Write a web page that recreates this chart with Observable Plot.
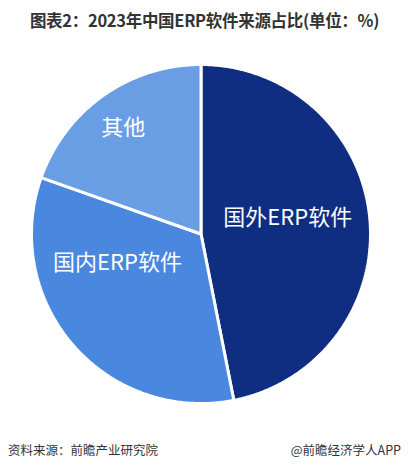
<!DOCTYPE html>
<html>
<head>
<meta charset="utf-8">
<script src="https://cdn.jsdelivr.net/npm/d3@7"></script>
<script src="https://cdn.jsdelivr.net/npm/@observablehq/plot@0.6"></script>
<style>
  html, body { margin: 0; padding: 0; background: #fff; }
  body { width: 409px; height: 469px; overflow: hidden; font-family: "Noto Sans CJK SC", "Noto Sans", sans-serif; }
  #title { height: 40px; line-height: 40px; text-align: center; font-size: 16.5px; font-weight: bold; color: #333; letter-spacing: -0.3px; }
  #footer { position: relative; height: 49px; font-size: 12.5px; color: #333; }
  #footer .l { position: absolute; left: 8px; top: 20px; }
  #footer .r { position: absolute; right: 8px; top: 20px; }
</style>
</head>
<body>
<div id="title">图表2：2023年中国ERP软件来源占比(单位：%)</div>
<div id="chart"></div>
<div id="footer"><span class="l">资料来源：前瞻产业研究院</span><span class="r">@前瞻经济学人APP</span></div>
<script>
const categories = ["国外ERP软件", "国内ERP软件", "其他"];
const shares = [46.9, 33.5, 19.6];
const colors = ["#0f2e82", "#4a87df", "#699de4"];

// Build slice polygons (clockwise from 12 o'clock) from the data
const total = d3.sum(shares);
const slices = [];
let acc = 0;
categories.forEach((name, i) => {
  const a0 = acc / total * 2 * Math.PI;
  acc += shares[i];
  const a1 = acc / total * 2 * Math.PI;
  slices.push({name, a0, a1, mid: (a0 + a1) / 2});
});
const verts = [];
for (const s of slices) {
  verts.push({name: s.name, x: 0, y: 0});
  const n = Math.max(2, Math.ceil((s.a1 - s.a0) / (Math.PI / 360)));
  for (let k = 0; k <= n; k++) {
    const a = s.a0 + (s.a1 - s.a0) * k / n;
    verts.push({name: s.name, x: Math.sin(a), y: Math.cos(a)});
  }
}
const labels = slices.map(s => ({name: s.name, x: 0.55 * Math.sin(s.mid), y: 0.55 * Math.cos(s.mid)}));
const lab = (name, dx, dy) => Plot.text(labels.filter(d => d.name === name), {
  x: "x", y: "y", text: "name", fill: "white", fontSize: 22, dx, dy,
  fontFamily: "Noto Sans CJK SC", textAnchor: "middle"
});

const chart = Plot.plot({
  width: 409,
  height: 380,
  marginLeft: 31,
  marginRight: 39,
  marginTop: 24,
  marginBottom: 17,
  x: {domain: [-1, 1], axis: null},
  y: {domain: [-1, 1], axis: null},
  color: {domain: categories, range: colors},
  marks: [
    Plot.line(verts, {x: "x", y: "y", z: "name", fill: "name", stroke: "white", strokeWidth: 3, curve: "linear-closed", strokeLinejoin: "miter"}),
    lab("国外ERP软件", -6, -7),
    lab("国内ERP软件", -13, -32),
    lab("其他", -24, -30)
  ]
});
document.getElementById("chart").appendChild(chart);
</script>
</body>
</html>
